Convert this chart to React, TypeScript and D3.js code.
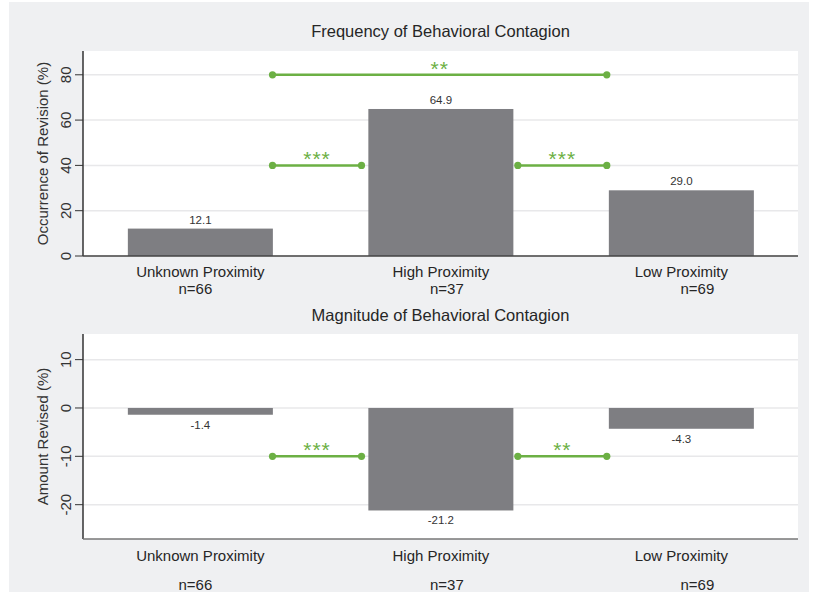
import React from 'react';
import * as d3 from 'd3';

const categories = ['Unknown Proximity', 'High Proximity', 'Low Proximity'];
const sampleSizes = ['n=66', 'n=37', 'n=69'];
const frequencyValues = [12.1, 64.9, 29.0];
const magnitudeValues = [-1.4, -21.2, -4.3];
const frequencyTicks = [0, 20, 40, 60, 80];
const magnitudeTicks = [-20, -10, 0, 10];

interface Bracket {
  from: number;
  to: number;
  y: number;
  label: string;
}

// bracket ends are in category units (0 = first bar)
const frequencyBrackets: Bracket[] = [
  { from: 0.3, to: 0.67, y: 40, label: '***' },
  { from: 1.32, to: 1.69, y: 40, label: '***' },
  { from: 0.3, to: 1.69, y: 80, label: '**' },
];
const magnitudeBrackets: Bracket[] = [
  { from: 0.3, to: 0.67, y: -10, label: '***' },
  { from: 1.32, to: 1.69, y: -10, label: '**' },
];

const W = 814;
const H = 592;
const FONT = '"Liberation Sans", Arial, sans-serif';
const BAR = '#7e7e82';
const GREEN = '#6cb044';
const PLOT_LEFT = 83;
const PLOT_RIGHT = 798;
const BAR_HALF = 0.3015;
const nOffsets = [-5, 6, 16];

const x = d3.scaleLinear().domain([-0.488, 2.485]).range([PLOT_LEFT, PLOT_RIGHT]);

interface PanelProps {
  title: string;
  yLabel: string;
  values: number[];
  domain: [number, number];
  ticks: number[];
  brackets: Bracket[];
  top: number;
  bottom: number;
  titleY: number;
  catY: number;
  nY: number;
  axisColor: string;
}

const Panel: React.FC<PanelProps> = ({
  title, yLabel, values, domain, ticks, brackets, top, bottom, titleY, catY, nY, axisColor,
}) => {
  const y = d3.scaleLinear().domain(domain).range([bottom, top]);
  const y0 = y(0);
  const mid = (top + bottom) / 2;

  return (
    <g>
      <text x={(PLOT_LEFT + PLOT_RIGHT) / 2} y={titleY} textAnchor="middle" fontSize={16.5} fill="#262626">
        {title}
      </text>
      <rect x={PLOT_LEFT} y={top} width={PLOT_RIGHT - PLOT_LEFT} height={bottom - top} fill="#fff" />

      {/* gridlines + ticks */}
      {ticks.map(t => (
        <g key={t}>
          <line x1={PLOT_LEFT} x2={PLOT_RIGHT} y1={y(t)} y2={y(t)} stroke="#e8e8ea" strokeWidth={1.5} />
          <line x1={PLOT_LEFT - 8} x2={PLOT_LEFT} y1={y(t)} y2={y(t)} stroke="#333" strokeWidth={1} />
          <text
            transform={`translate(${PLOT_LEFT - 12},${y(t)}) rotate(-90)`}
            textAnchor="middle"
            fontSize={15}
            fill="#333"
          >
            {t}
          </text>
        </g>
      ))}

      <text
        transform={`translate(48,${mid}) rotate(-90)`}
        textAnchor="middle"
        fontSize={15}
        fill="#333"
      >
        {yLabel}
      </text>

      {/* bars */}
      {values.map((v, i) => (
        <rect
          key={i}
          x={x(i - BAR_HALF)}
          width={x(i + BAR_HALF) - x(i - BAR_HALF)}
          y={Math.min(y(v), y0)}
          height={Math.abs(y(v) - y0)}
          fill={BAR}
        />
      ))}
      {values.map((v, i) => (
        <text
          key={i}
          x={x(i)}
          y={v >= 0 ? y(v) - 5 : y(v) + 14}
          textAnchor="middle"
          fontSize={11.5}
          fill="#333"
        >
          {v.toFixed(1)}
        </text>
      ))}

      {/* significance brackets */}
      {brackets.map((b, i) => (
        <g key={i}>
          <line x1={x(b.from)} x2={x(b.to)} y1={y(b.y)} y2={y(b.y)} stroke={GREEN} strokeWidth={2.5} />
          <circle cx={x(b.from)} cy={y(b.y)} r={3.6} fill={GREEN} />
          <circle cx={x(b.to)} cy={y(b.y)} r={3.6} fill={GREEN} />
          <text
            x={x((b.from + b.to) / 2)}
            y={y(b.y) + 1}
            textAnchor="middle"
            fontSize={21}
            letterSpacing={1}
            fill={GREEN}
          >
            {b.label}
          </text>
        </g>
      ))}

      {/* axes */}
      <line x1={PLOT_LEFT} x2={PLOT_LEFT} y1={top} y2={bottom} stroke="#333" strokeWidth={1.5} />
      <line x1={PLOT_LEFT} x2={PLOT_RIGHT} y1={bottom} y2={bottom} stroke={axisColor} strokeWidth={1.5} />

      {categories.map((c, i) => (
        <g key={c}>
          <text x={x(i)} y={catY} textAnchor="middle" fontSize={15} fill="#262626">{c}</text>
          <text x={x(i) + nOffsets[i]} y={nY} textAnchor="middle" fontSize={15} fill="#262626">{sampleSizes[i]}</text>
        </g>
      ))}
    </g>
  );
};

export default function App() {
  return (
    <svg
      width={W}
      height={H}
      style={{ position: 'absolute', left: 0, top: 0, fontFamily: FONT }}
    >
      <rect x={0} y={0} width={W} height={H} fill="#fff" />
      <rect x={9} y={2} width={800} height={H - 2} fill="#eff0f2" />
      <Panel
        title="Frequency of Behavioral Contagion"
        yLabel="Occurrence of Revision (%)"
        values={frequencyValues}
        domain={[0, 90.5]}
        ticks={frequencyTicks}
        brackets={frequencyBrackets}
        top={51}
        bottom={256}
        titleY={37}
        catY={277}
        nY={294}
        axisColor="#444"
      />
      <Panel
        title="Magnitude of Behavioral Contagion"
        yLabel="Amount Revised (%)"
        values={magnitudeValues}
        domain={[-27.1, 15.3]}
        ticks={magnitudeTicks}
        brackets={magnitudeBrackets}
        top={334}
        bottom={539}
        titleY={321}
        catY={561}
        nY={590}
        axisColor="#777"
      />
    </svg>
  );
}
